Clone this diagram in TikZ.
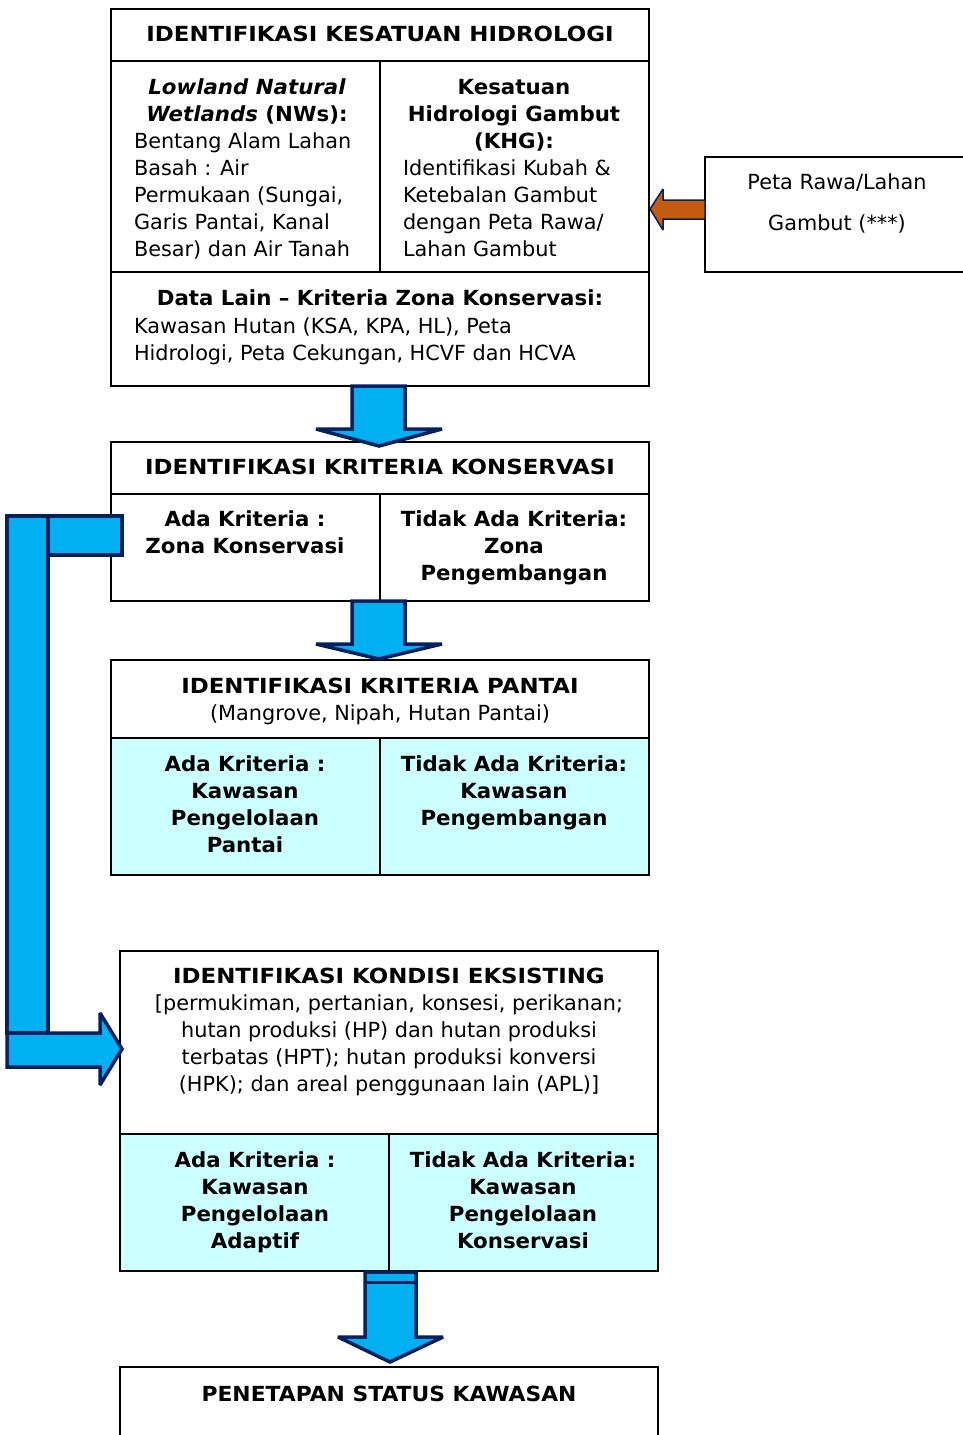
\documentclass[tikz,border=0pt]{standalone}
\usepackage{fontspec}
\setmainfont{DejaVu Sans}[BoldFeatures={FakeStretch=1.025}, BoldItalicFeatures={FakeStretch=1.025}]
\newfontfamily\headfont{DejaVu Sans}[FakeStretch=1.10]
\newfontfamily\headfontnarrow{DejaVu Sans}[FakeStretch=1.05]
\usetikzlibrary{calc}
\definecolor{arrowfill}{HTML}{00B0F0}
\definecolor{arrowedge}{HTML}{002060}
\definecolor{cellfill}{HTML}{CCFFFF}
\definecolor{orangefill}{HTML}{C55A11}

\begin{document}
\begin{tikzpicture}[x=1pt,y=-1pt,
  every node/.style={inner sep=0pt, outer sep=0pt},
  frame/.style={draw=black, line width=1.8pt, minimum width=538pt, anchor=north west},
  rule/.style={draw=black, line width=1.8pt},
  txt/.style={anchor=north, align=center, font=\fontsize{20.8}{27}\selectfont},
  btxt/.style={txt, font=\fontsize{20.8}{27}\selectfont\bfseries},
  htxt/.style={txt, font=\fontsize{20.8}{27}\selectfont\headfont\bfseries},
  ltxt/.style={txt, anchor=north west, align=left},
  bigarrow/.style={fill=arrowfill, draw=arrowedge, line width=3.5pt, line join=miter, miter limit=3},
  orangearrow/.style={fill=orangefill, draw=arrowedge, line width=1.5pt, line join=miter, miter limit=3}]
\clip (0,0) rectangle (963,1435);

% coloured cells
\fill[cellfill] (111,738) rectangle (649,875);
\fill[cellfill] (120,1134) rectangle (658,1271);

% frames
\node[frame, minimum height=377pt] (b1) at (111,9) {};
\node[frame, minimum height=159pt] (b2) at (111,442) {};
\node[frame, minimum height=215pt] (b3) at (111,660) {};
\node[frame, minimum height=320pt] (b4) at (120,951) {};
\node[frame, minimum height=120pt] (b5) at (120,1367) {};
\node[frame, minimum width=300pt, minimum height=115pt] (src) at (705,157) {};

% inner rules
\draw[rule] (111,61) -- (649,61);
\draw[rule] (380,61) -- (380,272);
\draw[rule] (111,272) -- (649,272);
\draw[rule] (111,494) -- (649,494);
\draw[rule] (380,494) -- (380,601);
\draw[rule] (111,738) -- (649,738);
\draw[rule] (380,738) -- (380,875);
\draw[rule] (120,1134) -- (658,1134);
\draw[rule] (389,1134) -- (389,1271);

% texts of the first block
\node[htxt] (h1) at (380,22.6) {\strut IDENTIFIKASI KESATUAN HIDROLOGI};
\node[btxt] (nwt) at (247,75.6) {\strut{\itshape Lowland Natural}\\{\itshape Wetlands} (NWs):};
\node[ltxt] (nwb) at (134,129.6) {\strut Bentang Alam Lahan\\Basah : Air\\Permukaan (Sungai,\\Garis Pantai, Kanal\\Besar) dan Air Tanah};
\node[btxt] (kht) at (514,75.6) {\strut Kesatuan\\Hidrologi Gambut\\(KHG):};
\node[ltxt] (khb) at (403,156.6) {\strut Identifikasi Kubah \&\\Ketebalan Gambut\\dengan Peta Rawa/\\Lahan Gambut};
\node[btxt] (dlt) at (380,287) {\strut Data Lain -- Kriteria Zona Konservasi:};
\node[ltxt] (dlb) at (134,314.5) {\strut Kawasan Hutan (KSA, KPA, HL), Peta\\Hidrologi, Peta Cekungan, HCVF dan HCVA};
\node[txt, font=\fontsize{20.8}{41}\selectfont] (srct) at (837,157) {\rule{0pt}{32pt}Peta Rawa/Lahan\\Gambut (***)};

% second block
\node[htxt] (h2) at (380,455.6) {\strut IDENTIFIKASI KRITERIA KONSERVASI};
\node[btxt] (k2l) at (245,507.6) {\strut Ada Kriteria :\\Zona Konservasi};
\node[btxt] (k2r) at (514,507.6) {\strut Tidak Ada Kriteria:\\Zona\\Pengembangan};

% third block
\node[txt] (h3) at (380,674.6) {\strut{\headfont\bfseries IDENTIFIKASI KRITERIA PANTAI}\\(Mangrove, Nipah, Hutan Pantai)};
\node[btxt] (k3l) at (245,752.6) {\strut Ada Kriteria :\\Kawasan\\Pengelolaan\\Pantai};
\node[btxt] (k3r) at (514,752.6) {\strut Tidak Ada Kriteria:\\Kawasan\\Pengembangan};

% fourth block
\node[txt] (h4) at (389,964.6) {\strut{\headfont\bfseries IDENTIFIKASI KONDISI EKSISTING}\\{[}permukiman, pertanian, konsesi, perikanan;\\hutan produksi (HP) dan hutan produksi\\terbatas (HPT); hutan produksi konversi\\(HPK); dan areal penggunaan lain (APL){]}};
\node[btxt] (k4l) at (255,1148.6) {\strut Ada Kriteria :\\Kawasan\\Pengelolaan\\Adaptif};
\node[btxt] (k4r) at (523,1148.6) {\strut Tidak Ada Kriteria:\\Kawasan\\Pengelolaan\\Konservasi};

% last block
\node[txt, font=\fontsize{20.8}{27}\selectfont\headfontnarrow\bfseries] (h5) at (389,1382.6) {\strut PENETAPAN STATUS KAWASAN};

% block arrows
\draw[bigarrow] ($(b1.south)+(-28,0)$) -- ($(b1.south)+(25,0)$) -- ($(b2.north)+(25,-13)$) -- ($(b2.north)+(62,-13)$) -- ($(b2.north)+(-1,4)$) -- ($(b2.north)+(-64,-13)$) -- ($(b2.north)+(-28,-13)$) -- cycle;
\draw[bigarrow] ($(b2.south)+(-28,0)$) -- ($(b2.south)+(25,0)$) -- ($(b3.north)+(25,-16)$) -- ($(b3.north)+(62,-16)$) -- ($(b3.north)+(-1,-1)$) -- ($(b3.north)+(-64,-16)$) -- ($(b3.north)+(-28,-16)$) -- cycle;
\draw[bigarrow] ($(b4.south)+(-24,1)$) -- ($(b4.south)+(27,1)$) -- ($(b5.north)+(27,-30)$) -- ($(b5.north)+(54,-30)$) -- ($(b5.north)+(1,-5)$) -- ($(b5.north)+(-51,-30)$) -- ($(b5.north)+(-24,-30)$) -- cycle;
\draw[arrowedge, line width=3pt] ($(b4.south)+(-24,11)$) -- ($(b4.south)+(27,11)$);

% side loop from the conservation criteria to the existing conditions
\draw[bigarrow] ($(b2.north west)+(-63,74)$) rectangle ($(b2.north west)+(11,113)$);
\draw[bigarrow] ($(b4.north west)+(-113,82)$) -- ($(b4.north west)+(-20,82)$) -- ($(b4.north west)+(-20,62)$) -- ($(b4.north west)+(2,98)$) -- ($(b4.north west)+(-20,134)$) -- ($(b4.north west)+(-20,116)$) -- ($(b4.north west)+(-113,116)$) -- cycle;
\draw[bigarrow] ($(b2.north west)+(-104,74)$) rectangle ($(b4.north west)+(-72,82)$);

% source map arrow
\draw[orangearrow] ($(src.north west)+(0,43)$) -- ($(src.north west)+(0,62)$) -- ($(b1.north east)+(14,210)$) -- ($(b1.north east)+(14,221)$) -- ($(b1.north east)+(1,200)$) -- ($(b1.north east)+(14,180)$) -- ($(b1.north east)+(14,191)$) -- cycle;
\end{tikzpicture}
\end{document}
